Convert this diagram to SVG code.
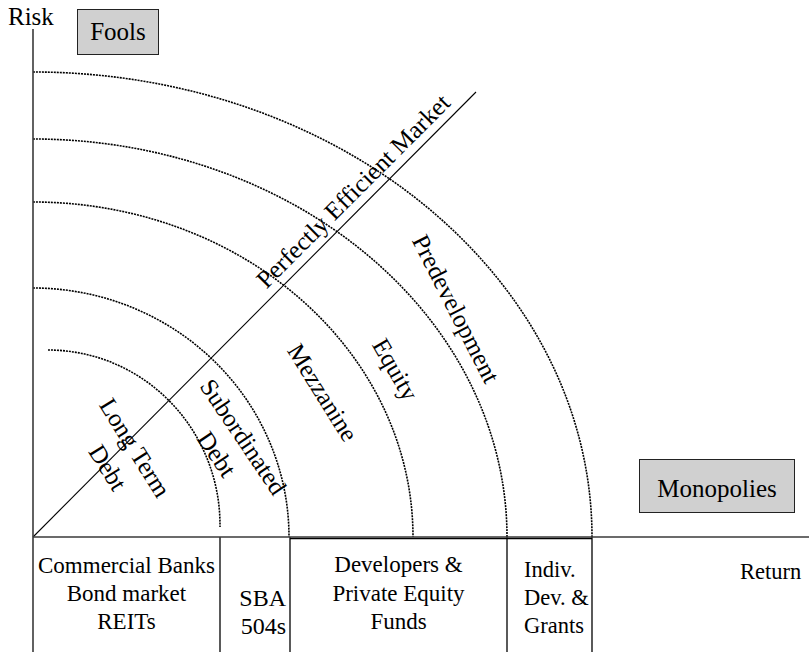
<svg xmlns="http://www.w3.org/2000/svg" width="809" height="652" viewBox="0 0 809 652" font-family="Liberation Serif, Times New Roman, DejaVu Serif, serif">
<style>
text{font-family:"Liberation Serif","Times New Roman","DejaVu Serif",serif;fill:#000}
.lbl{font-size:25px}
.tb{font-size:23px}
.arc{fill:none;stroke:#000;stroke-width:1.6;stroke-dasharray:2 1}
.axis{stroke:#3a3a3a;stroke-width:1.6;fill:none}
.cell{stroke:#000;stroke-width:1.3;fill:none}
.box{fill:#d0d0d0;stroke:#222;stroke-width:1}
</style>
<rect width="809" height="652" fill="#fff"/>
<g id="table">
<line class="cell" x1="220" y1="537" x2="220" y2="652"/>
<line class="cell" x1="290" y1="537" x2="290" y2="652"/>
<line class="cell" x1="507" y1="537" x2="507" y2="652"/>
<line class="cell" x1="592" y1="537" x2="592" y2="652"/>
<line class="cell" x1="290" y1="538.5" x2="592" y2="538.5"/>
</g>
<g id="connectors">
<path class="arc" d="M48 350 A172 175 0 0 1 220 525 L220 527"/>
<path class="arc" d="M33 288 A256 249 0 0 1 289 537"/>
<path class="arc" d="M33 202 A380 335 0 0 1 413 537"/>
<path class="arc" d="M33 139 A474 398 0 0 1 507 537"/>
<path class="arc" d="M33 72 A559 465 0 0 1 592 537"/>
<line x1="33" y1="537" x2="476" y2="92" stroke="#000" stroke-width="1.1"/>
</g>
<g id="axes">
<line class="axis" x1="33" y1="29" x2="33" y2="652"/>
<line class="axis" x1="33" y1="537" x2="809" y2="537"/>
</g>
<g id="risk"><text class="lbl" x="8" y="25">Risk</text></g>
<g id="fools">
<rect class="box" x="77.5" y="9.5" width="81" height="45"/>
<text class="lbl" x="118" y="40" text-anchor="middle">Fools</text>
</g>
<g id="monopolies">
<rect class="box" x="639.5" y="459.5" width="155" height="53"/>
<text class="lbl" x="717" y="497" text-anchor="middle">Monopolies</text>
</g>
<g id="efficient">
<text class="lbl" text-anchor="middle" transform="translate(359 197) rotate(-45)">Perfectly Efficient Market</text>
</g>
<g id="longterm">
<text class="lbl" text-anchor="middle" transform="translate(127.8 452.1) rotate(58)">Long Term</text>
<text class="lbl" text-anchor="middle" transform="translate(100.6 472) rotate(58)">Debt</text>
</g>
<g id="subordinated">
<text class="lbl" text-anchor="middle" transform="translate(236.3 441.5) rotate(56)">Subordinated</text>
<text class="lbl" text-anchor="middle" transform="translate(209.7 458.8) rotate(56)">Debt</text>
</g>
<g id="mezzanine">
<text class="lbl" text-anchor="middle" transform="translate(315.5 397) rotate(58)">Mezzanine</text>
</g>
<g id="equity">
<text class="lbl" text-anchor="middle" transform="translate(388.2 373.6) rotate(60)">Equity</text>
</g>
<g id="predevelopment">
<text class="lbl" text-anchor="middle" transform="translate(448.4 312.6) rotate(63)">Predevelopment</text>
</g>
<g id="banks">
<text class="tb" x="126.5" y="573" text-anchor="middle">Commercial Banks</text>
<text class="tb" x="126.5" y="601" text-anchor="middle">Bond market</text>
<text class="tb" x="126.5" y="629" text-anchor="middle">REITs</text>
</g>
<g id="sba">
<text x="286" y="606" text-anchor="end" font-size="24">SBA</text>
<text x="286" y="634" text-anchor="end" font-size="24">504s</text>
</g>
<g id="developers">
<text class="tb" x="398.5" y="572" text-anchor="middle">Developers &amp;</text>
<text class="tb" x="398.5" y="601" text-anchor="middle">Private Equity</text>
<text class="tb" x="398.5" y="629" text-anchor="middle">Funds</text>
</g>
<g id="indiv">
<text x="524" y="577" font-size="22.5">Indiv.</text>
<text x="524" y="605" font-size="22.5">Dev. &amp;</text>
<text x="524" y="633" font-size="22.5">Grants</text>
</g>
<g id="return"><text x="740" y="579" font-size="22.5">Return</text></g>
</svg>
